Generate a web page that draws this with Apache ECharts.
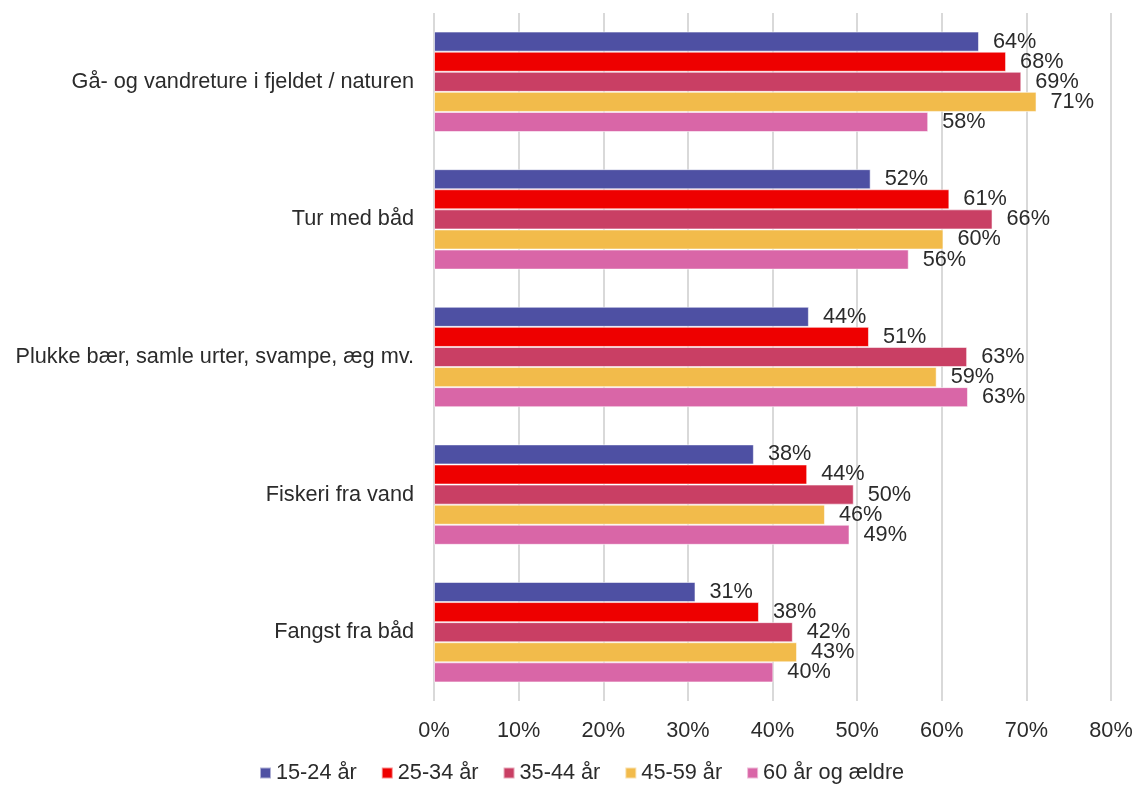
<!DOCTYPE html>
<html>
<head>
<meta charset="utf-8">
<script src="https://cdn.jsdelivr.net/npm/echarts@6/dist/echarts.min.js"></script>
<style>
  html, body { margin: 0; padding: 0; background: #fff; }
  #chart { width: 1136px; height: 785px; }
</style>
</head>
<body>
<div id="chart"></div>
<script>
  const categories = [
    'Gå- og vandreture i fjeldet / naturen',
    'Tur med båd',
    'Plukke bær, samle urter, svampe, æg mv.',
    'Fiskeri fra vand',
    'Fangst fra båd',
  ]
  const seriesNames = ['15-24 år', '25-34 år', '35-44 år', '45-59 år', '60 år og ældre']
  const colors = ['#4e50a3', '#ee0000', '#c93f64', '#f2bb4b', '#d966a7']

  const age15_24 = [64.4, 51.6, 44.3, 37.8, 30.9]
  const age25_34 = [67.6, 60.9, 51.4, 44.1, 38.4]
  const age35_44 = [69.4, 66.0, 63.0, 49.6, 42.4]
  const age45_59 = [71.2, 60.2, 59.4, 46.2, 42.9]
  const age60plus = [58.4, 56.1, 63.1, 49.1, 40.1]
  const values = [age15_24, age25_34, age35_44, age45_59, age60plus]

  const xTicks = [0, 10, 20, 30, 40, 50, 60, 70, 80]

  const textColor = '#2b2b2b'
  const font = 'Liberation Sans, Arial, sans-serif'
  const fs = 21.7

  const chart = echarts.init(document.getElementById('chart'), null, { renderer: 'canvas' })

  const option = {
    animation: false,
    textStyle: { fontFamily: font },
    grid: { left: 434, right: 25, top: 13, bottom: 84, containLabel: false },
    legend: {
      data: seriesNames,
      top: 757,
      left: 254,
      icon: 'rect',
      itemWidth: 11,
      itemHeight: 11,
      itemGap: 24,
      textStyle: { fontSize: fs, color: textColor, fontFamily: font },
    },
    xAxis: {
      type: 'value',
      min: xTicks[0],
      max: xTicks[xTicks.length - 1],
      interval: 10,
      axisLine: { show: false },
      axisTick: { show: false },
      axisLabel: {
        margin: 19,
        fontSize: fs,
        color: textColor,
        fontFamily: font,
        formatter: (v) => v + '%',
      },
      splitLine: { lineStyle: { color: '#d9d9d9', width: 2 } },
    },
    yAxis: {
      type: 'category',
      data: categories,
      inverse: true,
      axisLine: { show: false },
      axisTick: { show: false },
      axisLabel: { margin: 20, fontSize: fs, color: textColor, fontFamily: font },
    },
    series: seriesNames.map((name, i) => ({
      name: name,
      type: 'bar',
      data: values[i],
      barGap: '0%',
      barCategoryGap: '27%',
      itemStyle: { color: colors[i], borderColor: 'rgba(255,255,255,0.55)', borderWidth: 1 },
      label: {
        show: true,
        position: 'right',
        distance: 14,
        fontSize: fs,
        color: textColor,
        fontFamily: font,
        formatter: (p) => Math.round(p.value) + '%',
      },
    })),
  }

  chart.setOption(option)
</script>
</body>
</html>
